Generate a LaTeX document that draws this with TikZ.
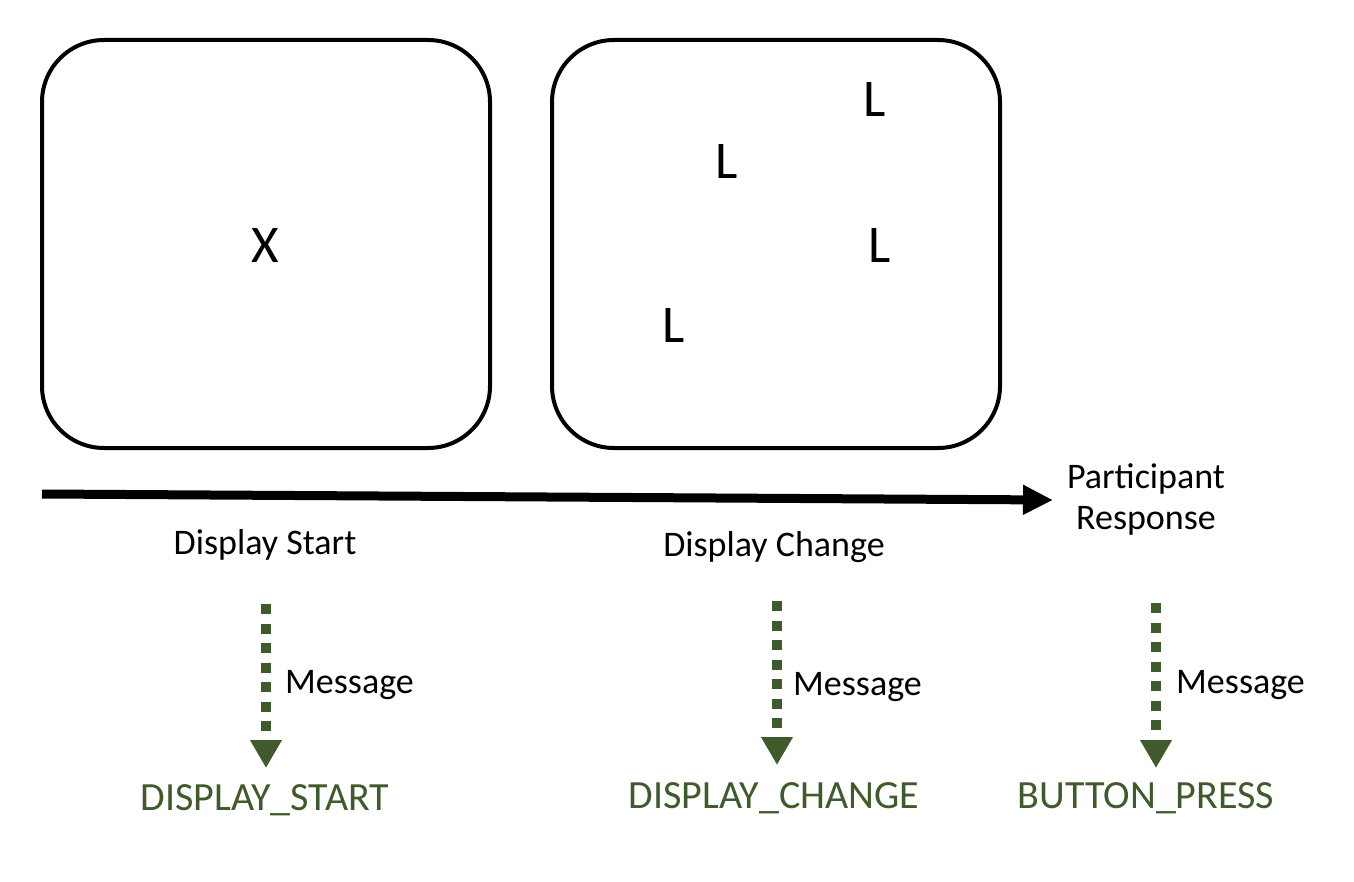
\documentclass[tikz,border=0pt]{standalone}
\usepackage{fontspec}
\setmainfont{Carlito}
\usetikzlibrary{arrows.meta}
\definecolor{msggreen}{HTML}{3F5A2B}
\begin{document}
\begin{tikzpicture}[x=1pt,y=-1pt,
  screen/.style={draw=black,line width=4pt,rounded corners=62pt,minimum width=448pt,minimum height=408pt,inner sep=0pt},
  letter/.style={font=\fontsize{53}{60}\selectfont,inner sep=0pt},
  caption/.style={font=\fontsize{36}{41}\selectfont,inner sep=0pt,align=center},
  msglabel/.style={font=\fontsize{36}{41}\selectfont,inner sep=0pt,anchor=west},
  evlabel/.style={font=\fontsize{40}{48}\selectfont,text=msggreen,inner sep=0pt},
  timeline/.style={line width=9pt,-{Triangle[length=30pt,width=28pt]}},
  msgarrow/.style={draw=msggreen,line width=10pt,dash pattern=on 10pt off 9.5pt,-{Triangle[length=28pt,width=30pt]}}
]
\useasboundingbox (0,0) rectangle (1354,882);
% screens
\node[screen] (s1) at (266,244) {};
\node[screen] (s2) at (776,244) {};
\node[letter] (x) at (265,245) {X};
\node[letter] (l1) at (875,100) {L};
\node[letter] (l2) at (727,162) {L};
\node[letter] (l3) at (880,245) {L};
\node[letter] (l4) at (674,325) {L};
% timeline
\coordinate (t0) at (42,494);
\coordinate (t1) at (1053,500);
\draw[timeline] (t0) -- (t1);
\node[caption] (pr) at (1146,499) {Participant\\Response};
\node[caption] (ds) at (265,545) {Display Start};
\node[caption] (dc) at (774,547) {Display Change};
% message arrows
\coordinate (a1) at (266,604);
\coordinate (a1t) at (266,768);
\coordinate (a2) at (777,601);
\coordinate (a2t) at (777,765);
\coordinate (a3) at (1156,603);
\coordinate (a3t) at (1156,768);
\draw[msgarrow] (a1) -- (a1t);
\draw[msgarrow] (a2) -- (a2t);
\draw[msgarrow] (a3) -- (a3t);
\node[msglabel] (m1) at (285,685) {Message};
\node[msglabel] (m2) at (793,687) {Message};
\node[msglabel] (m3) at (1176,685) {Message};
\node[evlabel] (e1) at (265,800) {DISPLAY\_START};
\node[evlabel] (e2) at (774,798) {DISPLAY\_CHANGE};
\node[evlabel] (e3) at (1146,798) {BUTTON\_PRESS};
\end{tikzpicture}
\end{document}
